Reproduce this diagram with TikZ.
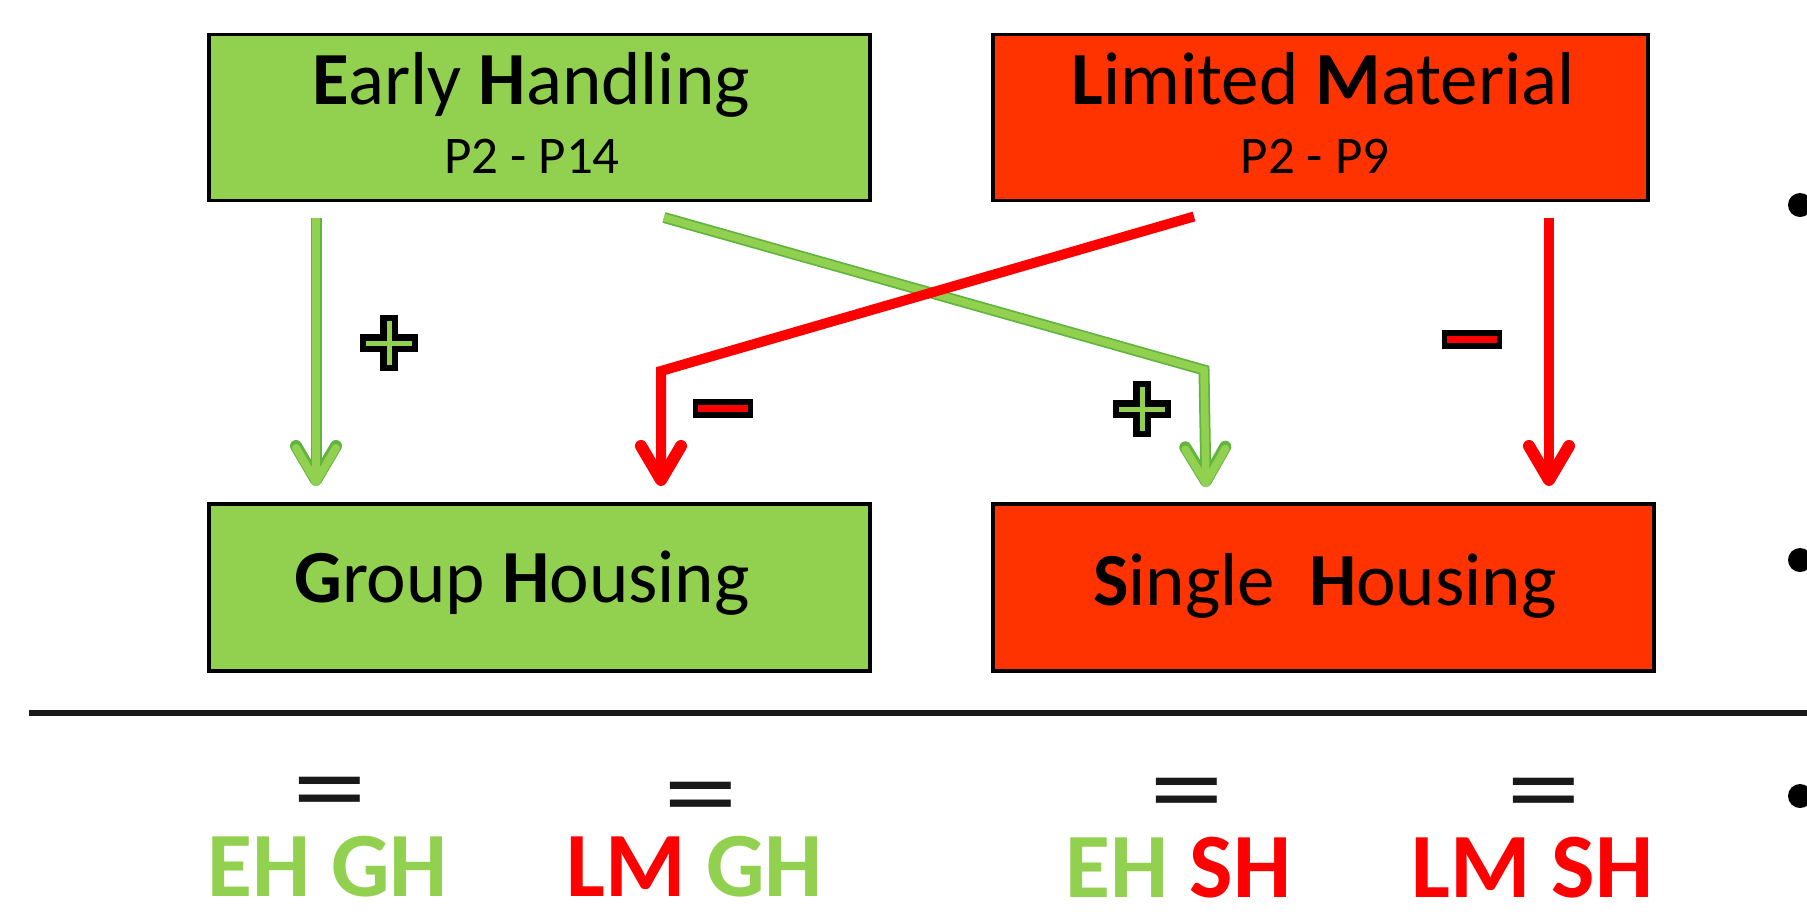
\documentclass[tikz,border=0pt]{standalone}
\usepackage{fontspec}
\setmainfont{Carlito}
\usetikzlibrary{arrows.meta,calc}
\definecolor{ehgreen}{HTML}{92D050}
\definecolor{edgegreen}{HTML}{62B441}
\definecolor{lmred}{HTML}{FF3300}
\definecolor{arrred}{HTML}{FF0000}
\newcommand\fsz[1]{\fontsize{#1}{#1}\selectfont}
\tikzset{
  box/.style={draw=black, line width=3.5pt, inner sep=0pt, outer sep=0pt, minimum height=166pt},
  title/.style={anchor=base, inner sep=0pt, font=\fsz{75}},
  subtitle/.style={anchor=base, inner sep=0pt, font=\fsz{53}},
  tag/.style={anchor=base, inner sep=0pt, font=\fsz{92}\bfseries},
  eqsign/.style={anchor=base, inner sep=0pt, font=\fsz{150}, text=black!90},
  redarrow/.style={draw=arrred, line width=10pt, -{Straight Barb[length=34pt, width=40pt, line width=12pt, round]}},
  greenedge/.style={draw=edgegreen, line width=11pt, -{Straight Barb[length=34pt, width=40pt, line width=12pt, round]}},
  greenfill/.style={draw=ehgreen, line width=7.5pt, -{Straight Barb[length=34pt, width=40pt, line width=8pt, round]}},
  plusmark/.pic={
    \draw[black, line width=18pt] (-29,0) -- (29,0) (0,-28) -- (0,28);
    \draw[ehgreen, line width=5pt] (-23,0) -- (23,0) (0,-22) -- (0,22);
  },
  minusmark/.pic={
    \draw[black, line width=19pt] (-30,0) -- (30,0);
    \draw[arrred, line width=7pt] (-25,0) -- (25,0);
  }
}
\begin{document}
\begin{tikzpicture}[x=1pt, y=-1pt]
\useasboundingbox[fill=white] (0,0) rectangle (1807,914);

% the four boxes
\node[box, fill=ehgreen, minimum width=661pt] (eh) at (539.5,117.5) {};
\node[box, fill=lmred, minimum width=655pt] (lm) at (1320.5,117.5) {};
\node[box, fill=ehgreen, minimum width=661pt, minimum height=167pt] (gh) at (539.5,587.5) {};
\node[box, fill=lmred, minimum width=661pt, minimum height=167pt] (sh) at (1323.5,587.5) {};

% box texts
\node[title] (ehT) at (531,104) {\textbf{E}arly \textbf{H}andling};
\node[subtitle] (ehS) at (532,173) {P2 - P14};
\node[title] (lmT) at (1323,104) {\textbf{L}imited \textbf{M}aterial};
\node[subtitle] (lmS) at (1315,173) {P2 - P9};
\node[title] (ghT) at (522,602) {\textbf{G}roup \textbf{H}ousing};
\node[title] (shT) at (1325,605) {\textbf{S}ingle\ \ \textbf{H}ousing};

% bend points of the crossing connectors
\coordinate (bendG) at (1204,370);
\coordinate (bendR) at (661,371);

% green connectors (outline, then fill)
\draw[greenedge] ($(eh.south west)+(107,17)$) -- ($(gh.north west)+(107,-18)$);
\draw[greenfill] ($(eh.south west)+(107,17)$) -- ($(gh.north west)+(107,-18)$);
\draw[greenedge] ($(eh.south west)+(455,17)$) -- (bendG) -- ($(sh.north west)+(213,-17)$);
\draw[greenfill] ($(eh.south west)+(455,17)$) -- (bendG) -- ($(sh.north west)+(213,-17)$);

% red connectors
\draw[redarrow] ($(lm.south west)+(201,16)$) -- (bendR) -- ($(gh.north west)+(452,-18)$);
\draw[redarrow] ($(lm.south west)+(556,17)$) -- ($(sh.north west)+(556,-18)$);

% signs on the connectors
\pic at (389,343) {plusmark};
\pic at (1142,409) {plusmark};
\pic at (723,408) {minusmark};
\pic at (1472,339) {minusmark};

% separator and list bullets
\draw[line width=5.5pt, black!90] (29,713) -- (1807,713);
\fill (1800,205) circle (12);
\fill (1800,560) circle (12);
\fill (1800,796) circle (12);

% combinations
\node[eqsign] (eq1) at (330,825) {\raisebox{0pt}[\height][0pt]{\scalebox{1}[0.75]{=}}};
\node[eqsign] (eq2) at (701,830) {\raisebox{0pt}[\height][0pt]{\scalebox{1}[0.75]{=}}};
\node[eqsign] (eq3) at (1187,826) {\raisebox{0pt}[\height][0pt]{\scalebox{1}[0.75]{=}}};
\node[eqsign] (eq4) at (1544,826) {\raisebox{0pt}[\height][0pt]{\scalebox{1}[0.75]{=}}};
\node[tag] (c1) at (327.5,896) {\textcolor{ehgreen}{EH GH}};
\node[tag] (c2) at (694.5,896) {\textcolor{arrred}{LM} \textcolor{ehgreen}{GH}};
\node[tag] (c3) at (1178.5,897) {\textcolor{ehgreen}{EH} \textcolor{arrred}{SH}};
\node[tag] (c4) at (1532.5,897) {\textcolor{arrred}{LM SH}};
\end{tikzpicture}
\end{document}
